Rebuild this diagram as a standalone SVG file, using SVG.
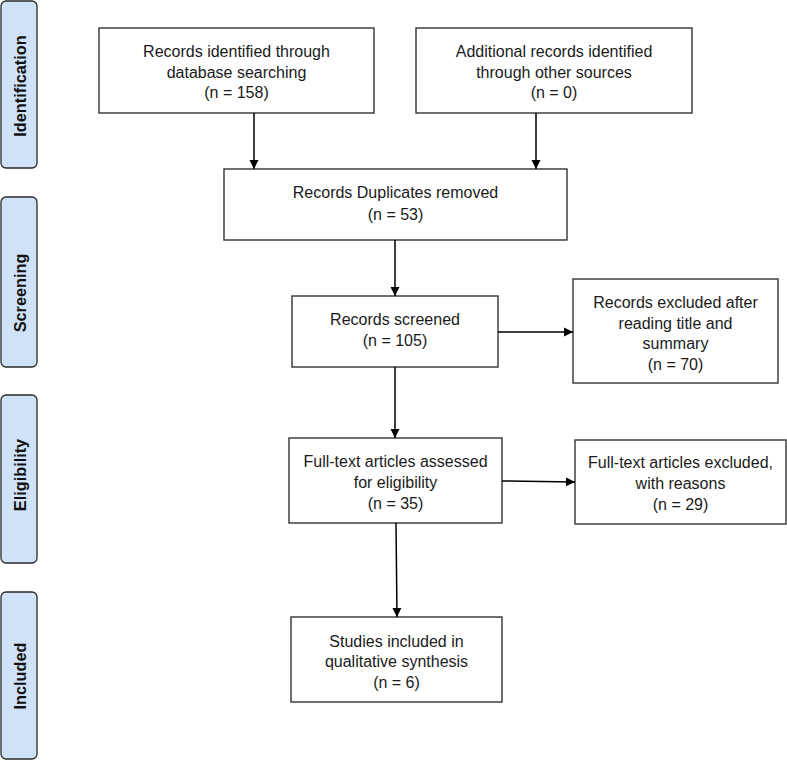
<svg xmlns="http://www.w3.org/2000/svg" width="787" height="762" viewBox="0 0 787 762">
<defs>
<marker id="ah" markerWidth="10" markerHeight="10" refX="9" refY="5" orient="auto" markerUnits="userSpaceOnUse">
<path d="M0,0.5 L9,5 L0,9.5 Z" fill="#000"/>
</marker>
<style>
.phase{fill:#cfe2f8;stroke:#2a2a2a;stroke-width:1.3}
.ptxt{font-family:"Liberation Sans",Arial,sans-serif;font-weight:bold;font-size:16.3px;fill:#111;text-anchor:middle}
.box{fill:#fff;stroke:#333;stroke-width:1.4}
.t{font-family:"Liberation Sans",Arial,sans-serif;font-size:16px;fill:#1a1a1a;text-anchor:middle}
.c{stroke:#000;stroke-width:1.5;fill:none;marker-end:url(#ah)}
</style>
</defs>
<rect width="787" height="762" fill="#fff"/>

<g id="phase-identification">
<rect class="phase" x="1" y="1" width="36" height="167" rx="5"/>
<text class="ptxt" transform="translate(26,86) rotate(-90)">Identification</text>
</g>
<g id="phase-screening">
<rect class="phase" x="1" y="197" width="36" height="170" rx="5"/>
<text class="ptxt" transform="translate(26,293) rotate(-90)">Screening</text>
</g>
<g id="phase-eligibility">
<rect class="phase" x="1" y="395" width="36" height="168" rx="5"/>
<text class="ptxt" transform="translate(26,475) rotate(-90)">Eligibility</text>
</g>
<g id="phase-included">
<rect class="phase" x="1" y="592" width="36" height="167" rx="5"/>
<text class="ptxt" transform="translate(26,676) rotate(-90)">Included</text>
</g>

<g id="n-database">
<rect class="box" x="99" y="28" width="275" height="85"/>
<text class="t" x="236.5" y="57">Records identified through</text>
<text class="t" x="236.5" y="77.5">database searching</text>
<text class="t" x="236.5" y="98">(n = 158)</text>
</g>
<g id="n-additional">
<rect class="box" x="416" y="28" width="276" height="85"/>
<text class="t" x="554" y="57">Additional records identified</text>
<text class="t" x="554" y="77.5">through other sources</text>
<text class="t" x="554" y="98">(n = 0)</text>
</g>
<g id="n-duplicates">
<rect class="box" x="224" y="169" width="343" height="71"/>
<text class="t" x="395.5" y="198">Records Duplicates removed</text>
<text class="t" x="395.5" y="219.5">(n = 53)</text>
</g>
<g id="n-screened">
<rect class="box" x="292" y="296" width="206" height="71"/>
<text class="t" x="395" y="325">Records screened</text>
<text class="t" x="395" y="346">(n = 105)</text>
</g>
<g id="n-excluded1">
<rect class="box" x="573" y="279" width="205" height="104"/>
<text class="t" x="675.5" y="308">Records excluded after</text>
<text class="t" x="675.5" y="328.5">reading title and</text>
<text class="t" x="675.5" y="349">summary</text>
<text class="t" x="675.5" y="369.5">(n = 70)</text>
</g>
<g id="n-fulltext">
<rect class="box" x="289" y="438" width="213" height="85"/>
<text class="t" x="395.5" y="467">Full-text articles assessed</text>
<text class="t" x="395.5" y="488">for eligibility</text>
<text class="t" x="395.5" y="509">(n = 35)</text>
</g>
<g id="n-excluded2">
<rect class="box" x="575" y="440" width="211" height="84"/>
<text class="t" x="680.5" y="468">Full-text articles excluded,</text>
<text class="t" x="680.5" y="489">with reasons</text>
<text class="t" x="680.5" y="510">(n = 29)</text>
</g>
<g id="n-included">
<rect class="box" x="291" y="617" width="211" height="85"/>
<text class="t" x="396.5" y="647">Studies included in</text>
<text class="t" x="396.5" y="667">qualitative synthesis</text>
<text class="t" x="396.5" y="687.5">(n = 6)</text>
</g>

<g id="connectors">
<line class="c" x1="254" y1="113" x2="254" y2="169"/>
<line class="c" x1="536" y1="113" x2="536" y2="169"/>
<line class="c" x1="395" y1="240" x2="395" y2="296"/>
<line class="c" x1="498" y1="332" x2="573" y2="332"/>
<line class="c" x1="395" y1="367" x2="395" y2="438"/>
<line class="c" x1="502" y1="481" x2="575" y2="482"/>
<line class="c" x1="396" y1="523" x2="397" y2="617"/>
</g>
</svg>
